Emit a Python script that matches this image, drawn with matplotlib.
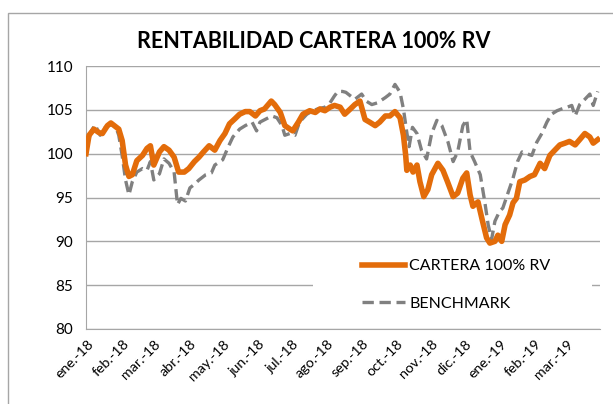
import matplotlib
matplotlib.use("Agg")
import matplotlib.pyplot as plt
import matplotlib.transforms as mtransforms
from matplotlib.lines import Line2D
from matplotlib.patches import Rectangle
import pandas as pd

plt.rcParams['font.family'] = ['Lato', 'DejaVu Sans']

title = "RENTABILIDAD CARTERA 100% RV"
series_names = ["CARTERA 100% RV", "BENCHMARK"]

# days since 2018-01-01 and values
cartera_day = [0, 2.7, 7, 11.5, 14.5, 19, 22, 26, 29, 32, 35, 38, 41, 45, 50, 54, 57, 60, 65, 69,
               73.5, 78, 82, 87, 91, 96, 100, 104, 109, 114, 118.6, 123, 127, 132, 136, 141, 145,
               150, 154, 158, 164, 167, 172, 176, 180.5, 183, 188, 192, 198, 203, 207, 211.5, 216,
               220, 225, 229, 234, 238, 242.5, 247, 251, 256, 260, 265, 269, 273.5, 278, 281, 283,
               284, 287, 289.5, 293, 295.6, 299, 302.6, 306, 311.5, 316, 320, 325, 329, 333.6, 337,
               340, 342.5, 347, 351, 354.6, 357.5, 362, 364.6, 368, 371, 375, 378, 381, 384, 388.5,
               393, 397, 402, 406, 410.6, 415, 419.5, 424, 428, 433, 437, 441.6, 446, 449, 453]
cartera_val = [100.0, 102.1, 102.8, 102.4, 102.3, 103.2, 103.5, 103.1, 102.8, 101.5, 98.7, 97.4,
               97.6, 99.2, 99.8, 100.6, 100.9, 98.7, 100.2, 100.8, 100.4, 99.6, 97.9, 97.9, 98.3,
               99.1, 99.6, 100.2, 100.9, 100.4, 101.5, 102.3, 103.4, 104.0, 104.5, 104.8, 104.8,
               104.3, 104.9, 105.1, 106.0, 105.6, 104.7, 103.2, 102.8, 102.6, 103.6, 104.5, 104.9,
               104.7, 105.1, 104.9, 105.3, 105.5, 105.3, 104.5, 105.1, 105.6, 106.0, 103.9, 103.6,
               103.2, 103.6, 104.3, 104.3, 104.8, 104.1, 102.1, 99.8, 98.1, 98.7, 97.9, 98.7, 96.8,
               95.1, 95.9, 97.6, 98.9, 98.1, 96.8, 95.1, 95.5, 97.2, 97.8, 95.3, 94.0, 94.5, 92.3,
               90.4, 89.8, 90.0, 90.7, 90.0, 91.9, 93.0, 94.4, 94.9, 96.8, 97.0, 97.4, 97.6, 98.9,
               98.3, 99.8, 100.4, 101.0, 101.2, 101.4, 101.0, 101.6, 102.3, 101.9, 101.2, 101.6]

bench_day = [0, 4, 8, 12.5, 17, 22, 26, 29, 32, 35, 38, 41, 45, 50, 54, 57, 60, 65, 69, 73.5, 78,
             81, 84, 88, 92, 96, 100, 106, 111, 114, 121, 126, 130, 136, 141, 147, 151, 154, 160,
             164.5, 169, 173.5, 176, 180.5, 185, 189, 195.5, 201, 205, 211.5, 216, 220, 223, 227,
             230, 234, 238, 244, 248, 253, 258, 265, 269, 273.5, 278, 281, 284, 286, 289, 293, 297,
             301.5, 306, 310.6, 315, 320.5, 325, 329, 333.6, 337, 340, 344, 349, 353, 356, 359, 362,
             366, 369, 373.5, 378, 382, 386, 390, 394.7, 399, 403.5, 408, 412, 417, 421, 426, 430,
             433, 437, 441.6, 446, 449, 453]
bench_val = [100.0, 102.4, 103.3, 102.1, 103.0, 103.3, 103.2, 102.1, 99.8, 97.0, 95.3, 96.8, 97.9,
             98.3, 98.1, 99.1, 97.0, 97.7, 99.4, 98.9, 97.9, 94.2, 94.9, 94.6, 96.1, 96.5, 97.0,
             97.6, 97.8, 98.7, 99.3, 100.8, 101.9, 102.8, 103.2, 103.6, 102.6, 103.6, 104.0, 104.3,
             104.1, 103.2, 102.1, 102.3, 102.1, 103.6, 104.5, 104.9, 105.1, 105.3, 105.8, 106.6,
             107.1, 107.1, 107.0, 106.6, 106.2, 106.8, 106.0, 105.6, 105.8, 106.4, 106.8, 107.9,
             107.0, 105.1, 102.4, 100.8, 103.0, 102.3, 100.4, 99.4, 102.3, 103.8, 103.2, 101.3,
             99.1, 100.2, 103.2, 103.9, 100.2, 99.1, 97.6, 94.5, 91.9, 90.2, 92.3, 93.4, 93.8, 95.5,
             97.2, 99.1, 100.2, 100.0, 99.8, 101.3, 102.3, 103.6, 104.5, 104.9, 105.1, 105.3, 105.5,
             104.3, 105.6, 106.2, 106.8, 105.5, 107.1]

month_labels = ['ene.-18', 'feb.-18', 'mar.-18', 'abr.-18', 'may.-18', 'jun.-18', 'jul.-18',
                'ago.-18', 'sep.-18', 'oct.-18', 'nov.-18', 'dic.-18', 'ene.-19', 'feb.-19',
                'mar.-19']
y_ticks = [80, 85, 90, 95, 100, 105, 110]

start = pd.Timestamp('2018-01-01')
cartera_dates = start + pd.to_timedelta(cartera_day, unit='D')
bench_dates = start + pd.to_timedelta(bench_day, unit='D')
month_dates = pd.date_range('2018-01-01', periods=len(month_labels), freq='MS')

W, H = 613, 404
fig = plt.figure(figsize=(W / 100, H / 100), dpi=100)
ax = fig.add_axes([86 / W, 1 - 329 / H, (600 - 86) / W, (329 - 66) / H])

ORANGE = '#E36C0A'
GRAY = '#808080'
GRID = '#A6A6A6'
DASH = (0, (3.4, 1.7))

ax.plot(bench_dates, bench_val, color=GRAY, lw=2.4, ls=DASH, zorder=3)
ax.plot(cartera_dates, cartera_val, color=ORANGE, lw=4.0, zorder=4, solid_joinstyle='round')

ax.set_xlim(start, start + pd.Timedelta(days=455))
ax.set_ylim(80, 110)
ax.set_yticks(y_ticks)
ax.yaxis.grid(True, color=GRID, lw=1.0)
ax.set_axisbelow(True)
ax.tick_params(axis='y', length=0, pad=9, labelsize=11, colors='#000000')
ax.tick_params(axis='x', length=0, pad=5, labelsize=10.3)
for s in ['top', 'right']:
    ax.spines[s].set_visible(False)
ax.spines['left'].set_color(GRID)
ax.spines['bottom'].set_color(GRID)

ax.set_xticks(month_dates)
ax.set_xticklabels(month_labels, rotation=45, ha='right', va='center', rotation_mode='anchor')
offset = mtransforms.ScaledTranslation(6 / 100, -6 / 100, fig.dpi_scale_trans)
for lbl in ax.get_xticklabels():
    lbl.set_transform(lbl.get_transform() + offset)

# legend with white box
fig.patches.append(Rectangle((313 / W, 1 - 322 / H), (592 - 313) / W, (322 - 248) / H,
                             transform=fig.transFigure, facecolor='white', edgecolor='none',
                             zorder=5))
handles = [Line2D([], [], color=ORANGE, lw=4.0),
           Line2D([], [], color=GRAY, lw=2.4, ls=DASH)]
leg = fig.legend(handles, series_names, loc='center left',
                 bbox_to_anchor=(354 / W, 1 - 285 / H), frameon=False, fontsize=11.5,
                 handlelength=2.7, handletextpad=0.25, labelspacing=1.45, borderpad=0)
leg.set_zorder(6)

fig.text(314 / W, 1 - 42 / H, title, ha='center', va='center', fontsize=15.5,
         fontweight='bold')

# chart border
fig.patches.append(Rectangle((8 / W, -0.05), 1.1, 1 - 13 / H + 0.05, transform=fig.transFigure,
                             facecolor='none', edgecolor='#A6A6A6', lw=1.0, clip_on=False))

fig.savefig('out.png', dpi=100)
